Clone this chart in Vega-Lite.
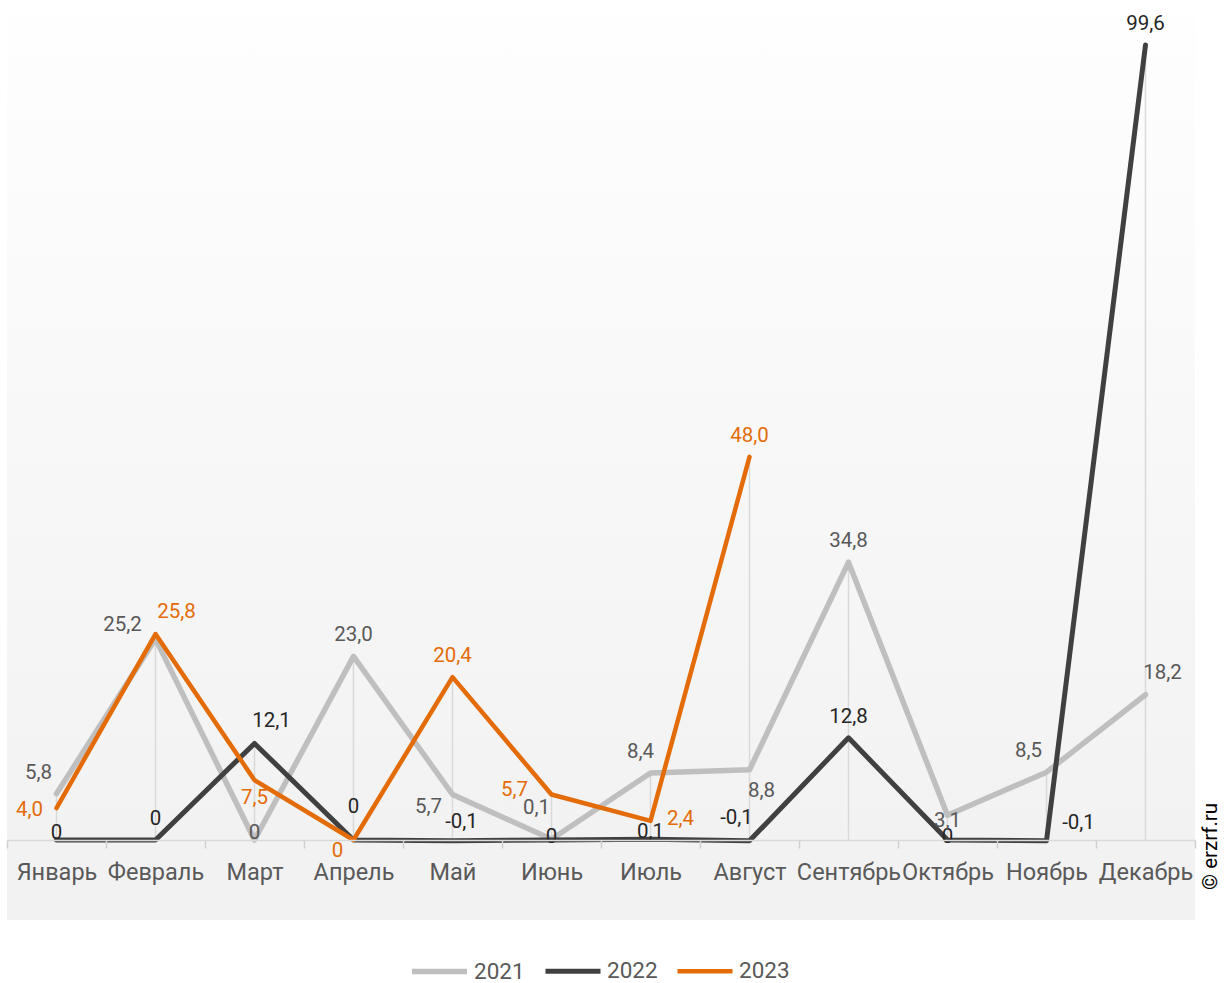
{
  "$schema": "https://vega.github.io/schema/vega-lite/v6.json",
  "autosize": {"type": "none"},
  "padding": {"left": 7, "top": 17, "right": 37, "bottom": 63},
  "width": 1188,
  "height": 903,
  "background": "white",
  "title": {"text": "© erzrf.ru", "orient": "right", "anchor": "end", "frame": "group", "angle": -90, "align": "left", "baseline": "middle", "dx": 30, "offset": -5, "font": "Roboto", "fontSize": 20.5, "fontWeight": "normal", "color": "#000000"},
  "config": {
    "view": {"stroke": null},
    "text": {"font": "Roboto", "fontSize": 20.5, "baseline": "middle", "align": "center"}
  },
  "layer": [
    {
      "data": {"values": [{}]},
      "mark": {"type": "rect", "color": {"gradient": "linear", "x1": 0, "y1": 0, "x2": 0, "y2": 1, "stops": [{"offset": 0, "color": "#fefefe"}, {"offset": 0.911, "color": "#f2f2f2"}, {"offset": 1, "color": "#f2f2f2"}]}},
      "encoding": {}
    },
    {
      "data": {"values": [
        {"month": "Январь", "year": "2021", "value": 5.8},
        {"month": "Февраль", "year": "2021", "value": 25.2},
        {"month": "Март", "year": "2021", "value": 0},
        {"month": "Апрель", "year": "2021", "value": 23.0},
        {"month": "Май", "year": "2021", "value": 5.7},
        {"month": "Июнь", "year": "2021", "value": 0.1},
        {"month": "Июль", "year": "2021", "value": 8.4},
        {"month": "Август", "year": "2021", "value": 8.8},
        {"month": "Сентябрь", "year": "2021", "value": 34.8},
        {"month": "Октябрь", "year": "2021", "value": 3.1},
        {"month": "Ноябрь", "year": "2021", "value": 8.5},
        {"month": "Декабрь", "year": "2021", "value": 18.2},
        {"month": "Январь", "year": "2022", "value": 0},
        {"month": "Февраль", "year": "2022", "value": 0},
        {"month": "Март", "year": "2022", "value": 12.1},
        {"month": "Апрель", "year": "2022", "value": 0},
        {"month": "Май", "year": "2022", "value": -0.1},
        {"month": "Июнь", "year": "2022", "value": 0},
        {"month": "Июль", "year": "2022", "value": 0.1},
        {"month": "Август", "year": "2022", "value": -0.1},
        {"month": "Сентябрь", "year": "2022", "value": 12.8},
        {"month": "Октябрь", "year": "2022", "value": 0},
        {"month": "Ноябрь", "year": "2022", "value": -0.1},
        {"month": "Декабрь", "year": "2022", "value": 99.6},
        {"month": "Январь", "year": "2023", "value": 4.0},
        {"month": "Февраль", "year": "2023", "value": 25.8},
        {"month": "Март", "year": "2023", "value": 7.5},
        {"month": "Апрель", "year": "2023", "value": 0},
        {"month": "Май", "year": "2023", "value": 20.4},
        {"month": "Июнь", "year": "2023", "value": 5.7},
        {"month": "Июль", "year": "2023", "value": 2.4},
        {"month": "Август", "year": "2023", "value": 48.0}
      ]},
      "transform": [
        {"calculate": "datum.year + '-' + datum.month", "as": "key"},
        {"calculate": "datum.value === 0 ? '0' : replace(replace(format(datum.value, '.1f'), '.', ','), '\u2212', '-')", "as": "label"}
      ],
      "encoding": {
        "x": {"field": "month", "type": "nominal", "title": null,
          "scale": {"type": "band", "domain": ["Январь", "Февраль", "Март", "Апрель", "Май", "Июнь", "Июль", "Август", "Сентябрь", "Октябрь", "Ноябрь", "Декабрь"], "paddingInner": 0, "paddingOuter": 0},
          "axis": {"offset": -80, "zindex": 1, "domainColor": "#d9d9d9", "domainWidth": 1.5, "tickColor": "#d0d0d0", "tickWidth": 1.5, "tickSize": 8, "tickBand": "extent", "labelFont": "Roboto", "labelFontSize": 23.5, "labelColor": "#595959", "labelPadding": 12, "labelAngle": 0, "labelOverlap": false, "labelBound": false, "grid": false, "title": null}},
        "y": {"field": "value", "type": "quantitative", "title": null, "scale": {"domain": [-10.02, 103.1], "nice": false, "zero": false}, "axis": null}
      },
      "layer": [
        {
          "mark": {"type": "rule", "color": "#d9d9d9", "strokeWidth": 1.5},
          "encoding": {
            "y": {"aggregate": "max", "field": "value", "type": "quantitative", "title": null},
            "y2": {"datum": 0}
          }
        },
        {
          "mark": {"type": "line", "strokeCap": "round", "strokeJoin": "round"},
          "encoding": {
            "strokeWidth": {"field": "year", "type": "nominal", "scale": {"domain": ["2021", "2022", "2023"], "range": [5.5, 4.5, 5.5]}, "legend": null},
            "color": {"field": "year", "type": "nominal",
              "scale": {"domain": ["2021", "2022", "2023"], "range": ["#bfbfbf", "#404040", "#e36c09"]},
              "legend": {"orient": "none", "legendX": 402, "legendY": 924, "direction": "horizontal", "title": null, "symbolType": "stroke", "symbolSize": 3025, "symbolStrokeWidth": 6, "labelFont": "Roboto", "labelFontSize": 22.5, "labelColor": "#595959", "labelOffset": 4, "columnSpacing": 26}}
          }
        },
        {"transform": [{"filter": {"field": "key", "oneOf": ["2021-Апрель", "2021-Сентябрь", "2022-Февраль", "2022-Сентябрь", "2022-Декабрь", "2023-Май", "2023-Август"]}}],
         "mark": {"type": "text", "dx": 0, "dy": -21},
         "encoding": {"text": {"field": "label"}, "fill": {"field": "year", "type": "nominal", "scale": {"domain": ["2021", "2022", "2023"], "range": ["#595959", "#262626", "#e36c09"]}, "legend": null}}},
        {"transform": [{"filter": {"field": "key", "oneOf": ["2021-Январь", "2021-Ноябрь"]}}],
         "mark": {"type": "text", "dx": -18, "dy": -21},
         "encoding": {"text": {"field": "label"}, "fill": {"field": "year", "type": "nominal", "scale": {"domain": ["2021", "2022", "2023"], "range": ["#595959", "#262626", "#e36c09"]}, "legend": null}}},
        {"transform": [{"filter": {"field": "key", "oneOf": ["2021-Июль"]}}],
         "mark": {"type": "text", "dx": -10, "dy": -21},
         "encoding": {"text": {"field": "label"}, "fill": {"field": "year", "type": "nominal", "scale": {"domain": ["2021", "2022", "2023"], "range": ["#595959", "#262626", "#e36c09"]}, "legend": null}}},
        {"transform": [{"filter": {"field": "key", "oneOf": ["2022-Август"]}}],
         "mark": {"type": "text", "dx": -13, "dy": -23},
         "encoding": {"text": {"field": "label"}, "fill": {"field": "year", "type": "nominal", "scale": {"domain": ["2021", "2022", "2023"], "range": ["#595959", "#262626", "#e36c09"]}, "legend": null}}},
        {"transform": [{"filter": {"field": "key", "oneOf": ["2021-Декабрь", "2022-Март"]}}],
         "mark": {"type": "text", "dx": 17, "dy": -22},
         "encoding": {"text": {"field": "label"}, "fill": {"field": "year", "type": "nominal", "scale": {"domain": ["2021", "2022", "2023"], "range": ["#595959", "#262626", "#e36c09"]}, "legend": null}}},
        {"transform": [{"filter": {"field": "key", "oneOf": ["2023-Февраль"]}}],
         "mark": {"type": "text", "dx": 21, "dy": -22},
         "encoding": {"text": {"field": "label"}, "fill": {"field": "year", "type": "nominal", "scale": {"domain": ["2021", "2022", "2023"], "range": ["#595959", "#262626", "#e36c09"]}, "legend": null}}},
        {"transform": [{"filter": {"field": "key", "oneOf": ["2022-Май"]}}],
         "mark": {"type": "text", "dx": 9, "dy": -19},
         "encoding": {"text": {"field": "label"}, "fill": {"field": "year", "type": "nominal", "scale": {"domain": ["2021", "2022", "2023"], "range": ["#595959", "#262626", "#e36c09"]}, "legend": null}}},
        {"transform": [{"filter": {"field": "key", "oneOf": ["2021-Июнь"]}}],
         "mark": {"type": "text", "dx": -15, "dy": -31},
         "encoding": {"text": {"field": "label"}, "fill": {"field": "year", "type": "nominal", "scale": {"domain": ["2021", "2022", "2023"], "range": ["#595959", "#262626", "#e36c09"]}, "legend": null}}},
        {"transform": [{"filter": {"field": "key", "oneOf": ["2022-Апрель"]}}],
         "mark": {"type": "text", "dx": 0, "dy": -33},
         "encoding": {"text": {"field": "label"}, "fill": {"field": "year", "type": "nominal", "scale": {"domain": ["2021", "2022", "2023"], "range": ["#595959", "#262626", "#e36c09"]}, "legend": null}}},
        {"transform": [{"filter": {"field": "key", "oneOf": ["2021-Март", "2022-Июль", "2022-Январь"]}}],
         "mark": {"type": "text", "dx": 0, "dy": -7},
         "encoding": {"text": {"field": "label"}, "fill": {"field": "year", "type": "nominal", "scale": {"domain": ["2021", "2022", "2023"], "range": ["#595959", "#262626", "#e36c09"]}, "legend": null}}},
        {"transform": [{"filter": {"field": "key", "oneOf": ["2022-Июнь", "2022-Октябрь"]}}],
         "mark": {"type": "text", "dx": 0, "dy": -3},
         "encoding": {"text": {"field": "label"}, "fill": {"field": "year", "type": "nominal", "scale": {"domain": ["2021", "2022", "2023"], "range": ["#595959", "#262626", "#e36c09"]}, "legend": null}}},
        {"transform": [{"filter": {"field": "key", "oneOf": ["2021-Октябрь"]}}],
         "mark": {"type": "text", "dx": 0, "dy": 6},
         "encoding": {"text": {"field": "label"}, "fill": {"field": "year", "type": "nominal", "scale": {"domain": ["2021", "2022", "2023"], "range": ["#595959", "#262626", "#e36c09"]}, "legend": null}}},
        {"transform": [{"filter": {"field": "key", "oneOf": ["2021-Февраль"]}}],
         "mark": {"type": "text", "dx": -33, "dy": -14},
         "encoding": {"text": {"field": "label"}, "fill": {"field": "year", "type": "nominal", "scale": {"domain": ["2021", "2022", "2023"], "range": ["#595959", "#262626", "#e36c09"]}, "legend": null}}},
        {"transform": [{"filter": {"field": "key", "oneOf": ["2023-Январь"]}}],
         "mark": {"type": "text", "dx": -27, "dy": 2},
         "encoding": {"text": {"field": "label"}, "fill": {"field": "year", "type": "nominal", "scale": {"domain": ["2021", "2022", "2023"], "range": ["#595959", "#262626", "#e36c09"]}, "legend": null}}},
        {"transform": [{"filter": {"field": "key", "oneOf": ["2023-Июнь"]}}],
         "mark": {"type": "text", "dx": -37, "dy": -5},
         "encoding": {"text": {"field": "label"}, "fill": {"field": "year", "type": "nominal", "scale": {"domain": ["2021", "2022", "2023"], "range": ["#595959", "#262626", "#e36c09"]}, "legend": null}}},
        {"transform": [{"filter": {"field": "key", "oneOf": ["2022-Ноябрь"]}}],
         "mark": {"type": "text", "dx": 32, "dy": -18},
         "encoding": {"text": {"field": "label"}, "fill": {"field": "year", "type": "nominal", "scale": {"domain": ["2021", "2022", "2023"], "range": ["#595959", "#262626", "#e36c09"]}, "legend": null}}},
        {"transform": [{"filter": {"field": "key", "oneOf": ["2023-Июль"]}}],
         "mark": {"type": "text", "dx": 30, "dy": -2},
         "encoding": {"text": {"field": "label"}, "fill": {"field": "year", "type": "nominal", "scale": {"domain": ["2021", "2022", "2023"], "range": ["#595959", "#262626", "#e36c09"]}, "legend": null}}},
        {"transform": [{"filter": {"field": "key", "oneOf": ["2021-Май"]}}],
         "mark": {"type": "text", "dx": -24, "dy": 12},
         "encoding": {"text": {"field": "label"}, "fill": {"field": "year", "type": "nominal", "scale": {"domain": ["2021", "2022", "2023"], "range": ["#595959", "#262626", "#e36c09"]}, "legend": null}}},
        {"transform": [{"filter": {"field": "key", "oneOf": ["2021-Август"]}}],
         "mark": {"type": "text", "dx": 12, "dy": 21},
         "encoding": {"text": {"field": "label"}, "fill": {"field": "year", "type": "nominal", "scale": {"domain": ["2021", "2022", "2023"], "range": ["#595959", "#262626", "#e36c09"]}, "legend": null}}},
        {"transform": [{"filter": {"field": "key", "oneOf": ["2023-Март"]}}],
         "mark": {"type": "text", "dx": 0, "dy": 18},
         "encoding": {"text": {"field": "label"}, "fill": {"field": "year", "type": "nominal", "scale": {"domain": ["2021", "2022", "2023"], "range": ["#595959", "#262626", "#e36c09"]}, "legend": null}}},
        {"transform": [{"filter": {"field": "key", "oneOf": ["2023-Апрель"]}}],
         "mark": {"type": "text", "dx": -16, "dy": 11},
         "encoding": {"text": {"field": "label"}, "fill": {"field": "year", "type": "nominal", "scale": {"domain": ["2021", "2022", "2023"], "range": ["#595959", "#262626", "#e36c09"]}, "legend": null}}}
      ]
    }
  ]
}
